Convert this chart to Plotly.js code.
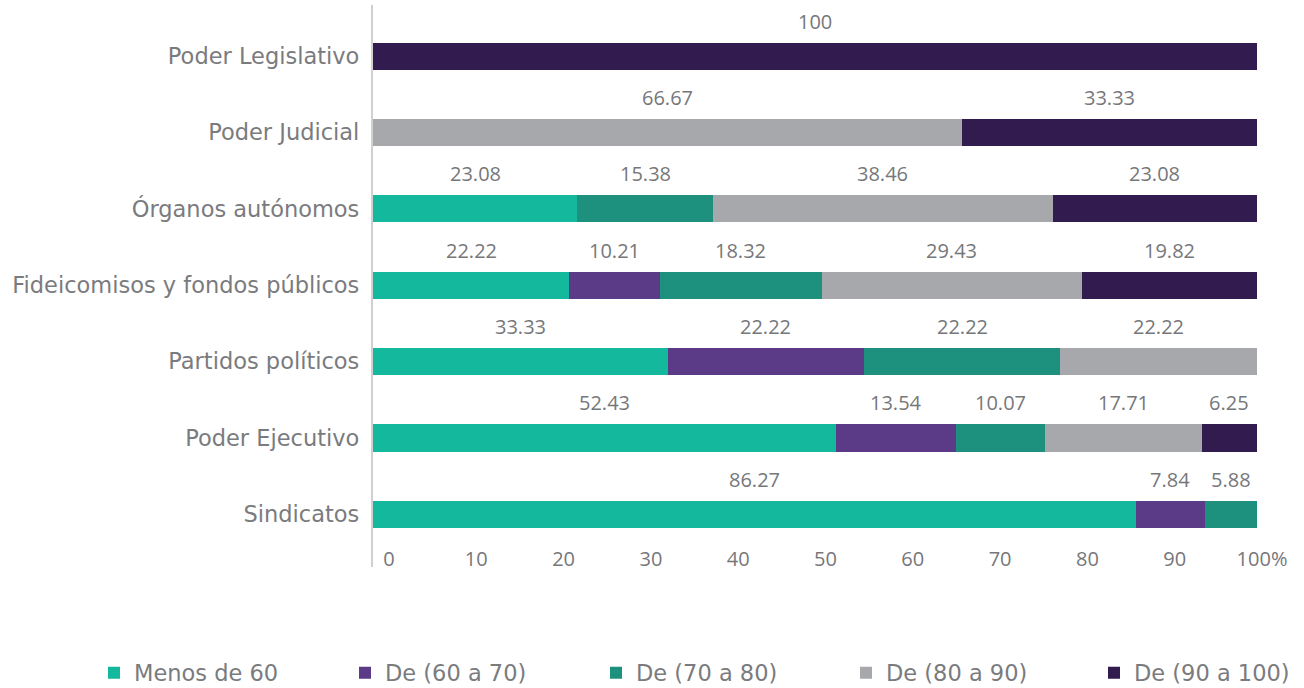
<!DOCTYPE html>
<html>
<head>
<meta charset="utf-8">
<script src="https://cdn.plot.ly/plotly-3.0.1.min.js"></script>
<style>html,body{margin:0;padding:0;background:#fff;}#chart{width:1304px;height:688px;}</style>
</head>
<body>
<div id="chart"></div>
<script>
const categories = ["Poder Legislativo","Poder Judicial","Órganos autónomos","Fideicomisos y fondos públicos","Partidos políticos","Poder Ejecutivo","Sindicatos"];
const seriesNames = ["Menos de 60","De (60 a 70)","De (70 a 80)","De (80 a 90)","De (90 a 100)"];
const menos60  = [null, null, 23.08, 22.22, 33.33, 52.43, 86.27];
const de60a70  = [null, null, null, 10.21, 22.22, 13.54, 7.84];
const de70a80  = [null, null, 15.38, 18.32, 22.22, 10.07, 5.88];
const de80a90  = [null, 66.67, 38.46, 29.43, 22.22, 17.71, null];
const de90a100 = [100, 33.33, 23.08, 19.82, null, 6.25, null];
const tickValues = [0,10,20,30,40,50,60,70,80,90,100];
const tickLabels = ["0","10","20","30","40","50","60","70","80","90","100%"];

const seriesValues = [menos60, de60a70, de70a80, de80a90, de90a100];
const colors = ["#13b89d","#5b3a88","#1e917e","#a7a8ab","#311b4f"];
const textColor = "#76777a";
const fontFam = "'Open Sans', Lato, sans-serif";
const wideFam = "'DejaVu Sans', 'Open Sans', sans-serif";
const baseFont = {family: fontFam, size: 20, color: textColor, weight: 400};
const catFont = {family: wideFam, size: 22.5, color: "#7a7b7e", weight: 400};
const legFont = {family: wideFam, size: 22.5, color: "#7a7b7e", weight: 400};

const legendIds = ["legend","legend2","legend3","legend4","legend5"];
const legendPx = [94, 345, 596, 846, 1094];

const traces = seriesValues.map((vals, i) => ({
  type: "bar",
  orientation: "h",
  name: seriesNames[i],
  y: categories,
  x: vals,
  legend: legendIds[i],
  marker: {color: colors[i]},
  width: 0.355,
  hoverinfo: "x+name"
}));
traces.push({type:"scatter", x:[], y:[], xaxis:"x2", yaxis:"y", showlegend:false, hoverinfo:"skip"});

const annotations = [];
categories.forEach((cat, ci) => {
  let cum = 0;
  seriesValues.forEach(vals => {
    const v = vals[ci];
    if (v !== null && v !== undefined) {
      annotations.push({
        x: cum + v/2, y: cat, xref: "x", yref: "y",
        text: String(v), showarrow: false, yshift: 35,
        font: baseFont
      });
      cum += v;
    }
  });
});

const plotW = 900;
const plotH = 562;
const layout = {
  width: 1304, height: 688,
  margin: {l: 373, r: 1304 - 373 - plotW, t: 5, b: 688 - 5 - plotH},
  paper_bgcolor: "#fff", plot_bgcolor: "rgba(0,0,0,0)",
  barmode: "stack",
  showlegend: true,
  font: baseFont,
  xaxis: {
    domain: [0, 884 / plotW],
    range: [0, 100], showgrid: false, zeroline: false, showline: false,
    showticklabels: false, fixedrange: true
  },
  xaxis2: {
    anchor: "free", position: 22 / plotH, side: "bottom", domain: [0, 1],
    range: [-1.833, -1.833 + plotW / 8.73],
    tickvals: tickValues, ticktext: tickLabels,
    ticks: "", automargin: false,
    showgrid: false, zeroline: false, showline: false,
    tickfont: baseFont
  },
  yaxis: {
    type: "category", categoryorder: "array", categoryarray: categories,
    range: [6.69, -0.67], showgrid: false, zeroline: false,
    showline: true, linecolor: "#d0d0d0", linewidth: 2,
    ticks: "", ticksuffix: " ", automargin: false,
    tickfont: catFont
  },
  annotations: annotations
};
legendIds.forEach((id, i) => {
  layout[id] = {
    orientation: "h", xref: "container", yref: "container",
    x: legendPx[i] / 1304, xanchor: "left",
    y: 1 - 673 / 688, yanchor: "middle", font: legFont, bgcolor: "rgba(0,0,0,0)"
  };
});

Plotly.newPlot("chart", traces, layout, {displayModeBar: false, staticPlot: true});
</script>
</body>
</html>
